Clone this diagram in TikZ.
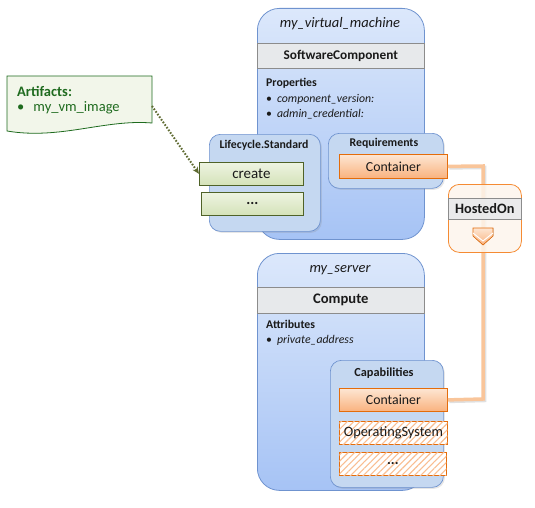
\documentclass[tikz,border=0pt]{standalone}
\usepackage{fontspec}
\setmainfont{Carlito}
\usetikzlibrary{patterns.meta,shadows,arrows.meta}
\definecolor{bbord}{HTML}{6F93CF}
\definecolor{btop}{HTML}{DCE8FB}
\definecolor{bbot}{HTML}{A6C3F5}
\definecolor{ifill}{HTML}{C5D8F1}
\definecolor{bandfill}{HTML}{E7E9EB}
\definecolor{bandbord}{HTML}{8C8C8C}
\definecolor{gbord}{HTML}{4F6228}
\definecolor{gtop}{HTML}{EEF4E2}
\definecolor{gbot}{HTML}{D4E2B8}
\definecolor{obord}{HTML}{E46C0A}
\definecolor{otop}{HTML}{FDE6D3}
\definecolor{obot}{HTML}{F9B27E}
\definecolor{oline}{HTML}{F9C59A}
\definecolor{hatch}{HTML}{F9BE92}
\definecolor{notefill}{HTML}{F2F6EA}
\definecolor{notebord}{HTML}{1E6B1E}
\definecolor{notetext}{HTML}{1F6B1F}
\definecolor{dotc}{HTML}{5F6B32}
\definecolor{hfill}{HTML}{FDF5EC}
\definecolor{hbord}{HTML}{F58B33}
\definecolor{txt}{HTML}{1A1A1A}
\tikzset{
  bigbox/.style={draw=bbord, line width=0.8pt, rounded corners=22pt, top color=btop, bottom color=bbot, anchor=north west, inner sep=0pt},
  band/.style={draw=bandbord, line width=0.6pt, fill=bandfill, anchor=north west, inner sep=0pt, font=\fontsize{13.3}{15}\selectfont\bfseries, text=txt},
  inbox/.style={draw=bbord, line width=0.7pt, rounded corners=11pt, fill=ifill, anchor=north west, inner sep=0pt, drop shadow={opacity=0.2, shadow xshift=1.5pt, shadow yshift=-1.5pt}},
  greenbox/.style={draw=gbord, line width=0.8pt, top color=gtop, bottom color=gbot, anchor=north west, inner sep=0pt, font=\fontsize{15}{17}\selectfont, text=txt},
  orangebox/.style={draw=obord, line width=0.8pt, top color=otop, bottom color=obot, anchor=north west, inner sep=0pt, font=\fontsize{13.8}{15}\selectfont, text=txt},
  hatchbox/.style={draw=obord, line width=0.8pt, fill=white, postaction={pattern={Lines[angle=45,distance=4.5pt,line width=1.1pt]}, pattern color=hatch}, anchor=north west, inner sep=0pt, font=\fontsize{14.3}{16}\selectfont, text=txt},
  titletext/.style={font=\fontsize{14.5}{16}\selectfont\itshape, text=txt, inner sep=0pt},
  headtext/.style={font=\fontsize{11.8}{13}\selectfont\bfseries, text=txt, inner sep=0pt},
  itemtext/.style={font=\fontsize{11.8}{13}\selectfont, text=txt, inner sep=0pt, anchor=west},
}
\begin{document}
\begin{tikzpicture}[x=1pt,y=-1pt]
\useasboundingbox (0,0) rectangle (535,508);

% ---------- my_virtual_machine ----------
\node[bigbox, minimum width=167pt, minimum height=231pt] (vm) at (257,8) {};
\node[titletext] (vmtitle) at (340,24) {my\_virtual\_machine};
\node[band, minimum width=167pt, minimum height=25pt] (swband) at (257,43) {SoftwareComponent};
\node[headtext, anchor=west] (props) at (266,83) {Properties};
\node[itemtext] (p1) at (266,99) {\textbullet\hspace{5pt}\textit{component\_version:}};
\node[itemtext] (p2) at (266,114) {\textbullet\hspace{5pt}\textit{admin\_credential:}};

\node[inbox, minimum width=111pt, minimum height=97pt] (lc) at (209,134) {};
\node[headtext] (lct) at (264,145) {Lifecycle.Standard};
\node[greenbox, minimum width=104pt, minimum height=23pt] (create) at (199,162) {create};
\node[greenbox, minimum width=102pt, minimum height=23pt] (dots1) at (201,192) {\textbf{...}};

\node[inbox, minimum width=115pt, minimum height=55pt] (req) at (328,133) {};
\node[headtext] (reqt) at (384,143) {Requirements};
\node[orangebox, minimum width=108pt, minimum height=24pt] (reqc) at (339,154) {Container};

% ---------- my_server ----------
\node[bigbox, minimum width=167pt, minimum height=237pt] (srv) at (257,253) {};
\node[titletext] (srvtitle) at (340,270) {my\_server};
\node[band, minimum width=167pt, minimum height=26pt, font=\fontsize{14.6}{16}\selectfont\bfseries] (cband) at (257,287) {Compute};
\node[headtext, anchor=west] (attrs) at (266,324) {Attributes};
\node[itemtext] (a1) at (266,340) {\textbullet\hspace{5pt}\textit{private\_address}};

\node[inbox, minimum width=113pt, minimum height=127pt] (cap) at (330,360) {};
\node[headtext, font=\fontsize{12.3}{14}\selectfont\bfseries] (capt) at (384,373) {Capabilities};
\node[orangebox, minimum width=108pt, minimum height=23pt] (capc) at (339,388) {Container};
\node[hatchbox, minimum width=108pt, minimum height=23pt] (os) at (339,421) {OperatingSystem};
\node[hatchbox, minimum width=107pt, minimum height=23pt] (dots2) at (339,452) {\textbf{...}};

% ---------- connector ----------
\coordinate (c1) at (483,166);
\coordinate (c2) at (483,399);
\draw[line width=3.5pt, black, opacity=0.12, transform canvas={xshift=1.5pt,yshift=-1.5pt}] (reqc.east) -- (c1) -- (c2) -- (capc.east);
\draw[line width=3.5pt, oline] (reqc.east) -- (c1) -- (c2) -- (capc.east);

% ---------- HostedOn ----------
\node[draw=hbord, line width=0.8pt, rounded corners=11pt, fill=hfill, fill opacity=0.85, anchor=north west, minimum width=73pt, minimum height=68pt, inner sep=0pt] (hosted) at (448,184) {};
\node[band, minimum width=73pt, minimum height=21pt, fill opacity=0.85, text opacity=1, font=\fontsize{14.3}{16}\selectfont\bfseries] (hband) at (448,198) {HostedOn};
\fill[top color=otop, bottom color=obot, draw=obord, line width=0.6pt] (473,228) -- (493,228) -- (493,236) -- (483,245) -- (473,236) -- cycle;
\draw[white, line width=1pt] (473,233) -- (483,241) -- (493,233);

% ---------- Artifacts note ----------
\path[fill=notefill, draw=notebord, line width=0.8pt] (7,76) -- (152,76) -- (152,123) .. controls (105,119) and (60,140) .. (7,131) -- cycle;
\node[font=\fontsize{14.5}{16}\selectfont\bfseries, text=notetext, anchor=west, inner sep=0pt] (arttitle) at (17,91) {Artifacts:};
\node[font=\fontsize{14.5}{16}\selectfont, text=notetext, anchor=west, inner sep=0pt] (artitem) at (17,108) {\textbullet\hspace{9pt}my\_vm\_image};
\coordinate (noteE) at (152,106);
\draw[dotc, line width=2pt, dash pattern=on 1.6pt off 1.6pt, -{Stealth[length=7pt,width=6pt]}] (noteE) -- (create.west);
\end{tikzpicture}
\end{document}
